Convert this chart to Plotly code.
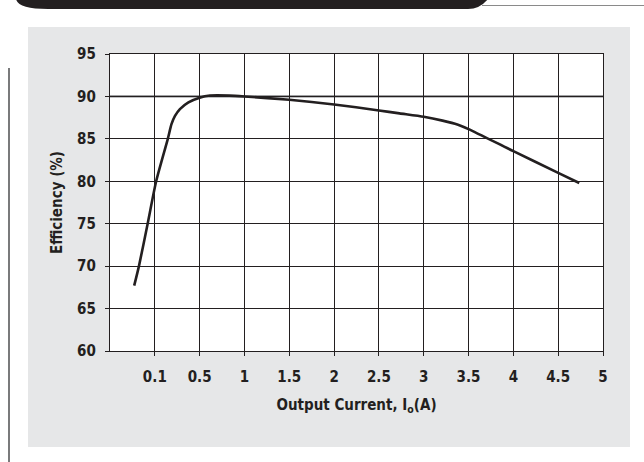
import plotly.graph_objects as go

# ---- data (x given in axis grid positions; labels below) ----
current_pos = [0.54, 0.646, 0.84, 1.03, 1.29, 1.37, 1.45, 1.56, 1.75, 2.00, 2.23, 2.67,
               3.00, 4.00, 5.00, 6.00, 6.46, 7.00, 7.42, 7.75, 8.00, 9.00, 10.00, 10.47]
efficiency = [67.7, 70.0, 75.0, 80.0, 85.0, 86.7, 87.7, 88.5, 89.3, 89.85, 90.1, 90.1,
              90.0, 89.6, 89.05, 88.35, 88.0, 87.6, 87.15, 86.7, 86.15, 83.55, 81.0, 79.8]
x_tick_pos = [1, 2, 3, 4, 5, 6, 7, 8, 9, 10, 11]
x_tick_labels = ["0.1", "0.5", "1", "1.5", "2", "2.5", "3", "3.5", "4", "4.5", "5"]
y_ticks = [60, 65, 70, 75, 80, 85, 90, 95]

W, H = 644, 462
L, R, T, B = 110, 603, 54, 351  # plot area in pixels
FONT = "Liberation Sans Narrow, DejaVu Sans Condensed, Arial Narrow, sans-serif"
DARK = "#231f20"


def px(x):
    return (x - L) / (R - L)


def py(y):
    return (B - y) / (B - T)


fig = go.Figure()
fig.add_trace(go.Scatter(
    x=current_pos, y=efficiency, mode="lines",
    line=dict(color=DARK, width=2.6, shape="spline", smoothing=0.6),
    hoverinfo="skip", showlegend=False,
))

shapes = []
# gray panel
shapes.append(dict(type="rect", xref="paper", yref="paper", layer="below",
                   x0=px(28), x1=px(630), y0=py(447), y1=py(27),
                   fillcolor="#e6e7e8", line=dict(width=0)))
# white plot area
shapes.append(dict(type="rect", xref="paper", yref="paper", layer="below",
                   x0=0, x1=1, y0=0, y1=1, fillcolor="white", line=dict(width=0)))
# top dark bar
path = (f"M {px(16)},{py(-1)} Q {px(18)},{py(9)} {px(48)},{py(9)} "
        f"L {px(468)},{py(9)} Q {px(480)},{py(9)} {px(488)},{py(-1)} Z")
shapes.append(dict(type="path", xref="paper", yref="paper", layer="below",
                   path=path, fillcolor=DARK, line=dict(width=0)))
# thin tab outline
shapes.append(dict(type="line", xref="paper", yref="paper", layer="below",
                   x0=px(482), x1=px(645), y0=py(5.5), y1=py(5.5),
                   line=dict(color="#8a8a8a", width=1)))
# left vertical rule
shapes.append(dict(type="line", xref="paper", yref="paper", layer="below",
                   x0=px(9), x1=px(9), y0=py(68), y1=py(463),
                   line=dict(color="#58595b", width=1.6)))
# 90% reference gridline (gray, thicker)
shapes.append(dict(type="line", xref="paper", yref="y", layer="between",
                   x0=0, x1=1, y0=90, y1=90,
                   line=dict(color="#808285", width=2.2)))

fig.update_layout(
    width=W, height=H,
    margin=dict(l=L, r=W - R, t=T, b=H - B),
    paper_bgcolor="white", plot_bgcolor="white",
    shapes=shapes,
    font=dict(family=FONT, color=DARK),
    xaxis=dict(
        range=[0, 11], tickmode="array", tickvals=x_tick_pos, ticktext=x_tick_labels,
        showgrid=True, gridcolor=DARK, gridwidth=1.4,
        showline=True, linecolor=DARK, linewidth=1.4, mirror=True,
        ticks="outside", ticklen=4, tickwidth=1.4, tickcolor=DARK,
        tickfont=dict(family=FONT, size=15, color=DARK, weight="bold"),
        ticklabelstandoff=8,
        zeroline=False, fixedrange=True,
        title=dict(text="Output Current, I<sub>o</sub>(A)", standoff=14,
                   font=dict(family=FONT, size=15, color=DARK, weight="bold")),
    ),
    yaxis=dict(
        range=[60, 95], tickmode="array", tickvals=y_ticks,
        showgrid=True, gridcolor=DARK, gridwidth=1.4,
        showline=True, linecolor=DARK, linewidth=1.4, mirror=True,
        ticks="outside", ticklen=4, tickwidth=1.4, tickcolor=DARK,
        tickfont=dict(family=FONT, size=15, color=DARK, weight="bold"),
        ticklabelstandoff=6,
        zeroline=False, fixedrange=True,
        title=dict(text="Efficiency (%)", standoff=10,
                   font=dict(family=FONT, size=15, color=DARK, weight="bold")),
    ),
)

fig.write_html("out.html", config={"displayModeBar": False})
